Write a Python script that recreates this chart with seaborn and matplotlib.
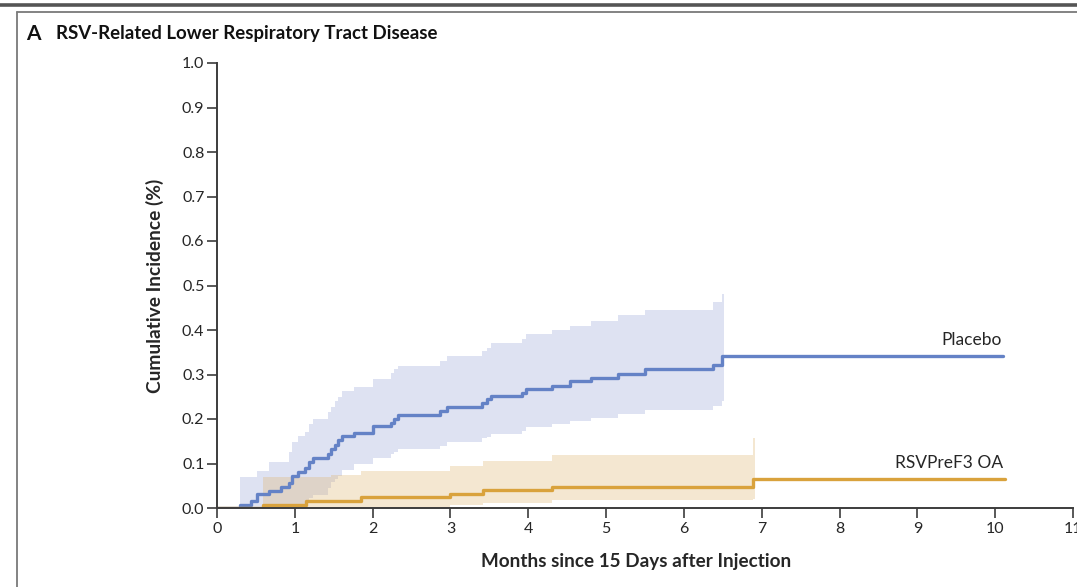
import numpy as np
import pandas as pd
import matplotlib
matplotlib.use("Agg")
import matplotlib.pyplot as plt
from matplotlib.lines import Line2D
import seaborn as sns

# Kaplan-Meier style cumulative incidence, placebo arm
placebo_time = [0.00, 0.29, 0.44, 0.52, 0.67, 0.82, 0.92, 0.97, 1.04, 1.13, 1.18, 1.24,
                1.42, 1.47, 1.51, 1.55, 1.60, 1.76, 2.00, 2.23, 2.28, 2.33, 2.86, 2.96,
                3.41, 3.47, 3.52, 3.92, 3.97, 4.30, 4.54, 4.80, 5.15, 5.50, 6.37, 6.49]
placebo_est = [0.000, 0.0075, 0.015, 0.032, 0.039, 0.047, 0.056, 0.071, 0.080, 0.090, 0.104, 0.113,
               0.122, 0.132, 0.142, 0.153, 0.162, 0.169, 0.184, 0.192, 0.199, 0.210, 0.218, 0.228,
               0.237, 0.244, 0.252, 0.258, 0.267, 0.275, 0.285, 0.293, 0.301, 0.312, 0.321, 0.342]
placebo_lo = [0.000, 0.000, 0.000, 0.000, 0.000, 0.000, 0.004, 0.006, 0.010, 0.015, 0.022, 0.030,
              0.045, 0.058, 0.065, 0.072, 0.085, 0.100, 0.112, 0.121, 0.126, 0.132, 0.140, 0.148,
              0.157, 0.160, 0.166, 0.172, 0.183, 0.189, 0.196, 0.203, 0.211, 0.220, 0.229, 0.240]
placebo_hi = [0.000, 0.069, 0.069, 0.083, 0.103, 0.103, 0.126, 0.148, 0.162, 0.170, 0.188, 0.201,
              0.215, 0.228, 0.240, 0.250, 0.262, 0.271, 0.290, 0.303, 0.312, 0.320, 0.330, 0.341,
              0.352, 0.360, 0.371, 0.379, 0.390, 0.400, 0.410, 0.421, 0.434, 0.445, 0.464, 0.482]
placebo_band_end = 6.51
placebo_follow_up = 10.10

# Vaccine arm
vaccine_time = [0.00, 0.59, 1.15, 1.47, 1.85, 2.99, 3.42, 4.30, 6.89]
vaccine_est = [0.000, 0.0075, 0.015, 0.015, 0.024, 0.032, 0.040, 0.048, 0.066]
vaccine_lo = [0.000, 0.000, 0.000, 0.000, 0.000, 0.007, 0.012, 0.018, 0.020]
vaccine_hi = [0.000, 0.069, 0.069, 0.074, 0.084, 0.094, 0.105, 0.119, 0.157]
vaccine_band_end = 6.91
vaccine_follow_up = 10.12

group_names = ["Placebo", "RSVPreF3 OA"]
y_ticks = [round(0.1 * i, 1) for i in range(11)]
x_ticks = list(range(12))

BLUE = "#6482c6"
BLUE_FILL = (148 / 255, 162 / 255, 215 / 255)
GOLD = "#d9a23c"
GOLD_FILL = (222 / 255, 182 / 255, 112 / 255)
SPINE = "#3c3c3c"
TEXT = "#262626"

sns.set_theme(style="ticks")
plt.rcParams["font.family"] = ["Lato", "DejaVu Sans"]

fig = plt.figure(figsize=(10.77, 5.87), dpi=100)
ax = fig.add_axes([217 / 1077, 1 - 508 / 587, 856 / 1077, 445 / 587])


def arm_frame(time, est, lo, hi, band_end, follow_up):
    line = pd.DataFrame({"t": list(time) + [follow_up], "v": list(est) + [est[-1]]})
    band = pd.DataFrame({"t": list(time) + [band_end],
                         "lo": list(lo) + [lo[-1]],
                         "hi": list(hi) + [hi[-1]]})
    return line, band


p_line, p_band = arm_frame(placebo_time, placebo_est, placebo_lo, placebo_hi,
                           placebo_band_end, placebo_follow_up)
v_line, v_band = arm_frame(vaccine_time, vaccine_est, vaccine_lo, vaccine_hi,
                           vaccine_band_end, vaccine_follow_up)

# confidence bands
ax.fill_between(p_band["t"], p_band["lo"], p_band["hi"], step="post",
                color=BLUE_FILL, alpha=0.3, linewidth=0, zorder=1)
ax.fill_between(v_band["t"], v_band["lo"], v_band["hi"], step="post",
                color=GOLD_FILL, alpha=0.32, linewidth=0, zorder=2)

# step curves
sns.lineplot(data=p_line, x="t", y="v", ax=ax, color=BLUE, linewidth=2.4,
             drawstyle="steps-post", sort=False, zorder=4)
sns.lineplot(data=v_line, x="t", y="v", ax=ax, color=GOLD, linewidth=2.4,
             drawstyle="steps-post", sort=False, zorder=4)

ax.text(placebo_follow_up - 0.01, placebo_est[-1] + 0.018, group_names[0],
        ha="right", va="bottom", fontsize=12.5, color=TEXT)
ax.text(vaccine_follow_up - 0.02, vaccine_est[-1] + 0.018, group_names[1],
        ha="right", va="bottom", fontsize=12.5, color=TEXT)

ax.set_xlim(0, 11)
ax.set_ylim(0, 1.0)
ax.set_xticks(x_ticks)
ax.set_xticklabels([str(t) for t in x_ticks])
ax.set_yticks(y_ticks)
ax.set_yticklabels([f"{t:.1f}" for t in y_ticks])
ax.set_xlabel("")
ax.set_ylabel("Cumulative Incidence (%)", fontsize=13.8, fontweight="bold",
              color=TEXT, labelpad=13)
for side in ("top", "right"):
    ax.spines[side].set_visible(False)
for side in ("left", "bottom"):
    ax.spines[side].set_color(SPINE)
    ax.spines[side].set_linewidth(1.4)
ax.tick_params(axis="both", colors=SPINE, labelcolor=TEXT, labelsize=11.5,
               length=7, width=1.2, direction="out")
ax.tick_params(axis="x", pad=3)
ax.tick_params(axis="y", pad=2)
ax.set_facecolor("white")
ax.patch.set_alpha(0)
ax.spines["left"].set_bounds(0, 1.0)
for sp in ax.spines.values():
    sp.set_zorder(5)

fig.text(636 / 1077, 1 - 562 / 587, "Months since 15 Days after Injection",
         ha="center", va="center", fontsize=13.6, fontweight="bold", color=TEXT)

# panel heading
fig.text(26 / 1077, 1 - 34 / 587, "A", ha="left", va="center",
         fontsize=15, fontweight="bold", color="#111111")
fig.text(56 / 1077, 1 - 34 / 587, "RSV-Related Lower Respiratory Tract Disease",
         ha="left", va="center", fontsize=13.4, fontweight="bold", color="#111111")

# page rules and panel frame
fig.add_artist(Line2D([0, 1], [1 - 5 / 587, 1 - 5 / 587], transform=fig.transFigure,
                      color="#555555", linewidth=2.6))
fig.add_artist(Line2D([17 / 1077, 1], [1 - 11.5 / 587, 1 - 11.5 / 587],
                      transform=fig.transFigure, color="#7a7a7a", linewidth=1.3))
fig.add_artist(Line2D([17 / 1077, 17 / 1077], [1 - 11.5 / 587, 0],
                      transform=fig.transFigure, color="#7a7a7a", linewidth=1.3))

fig.savefig("out.png", dpi=100, facecolor="white")
